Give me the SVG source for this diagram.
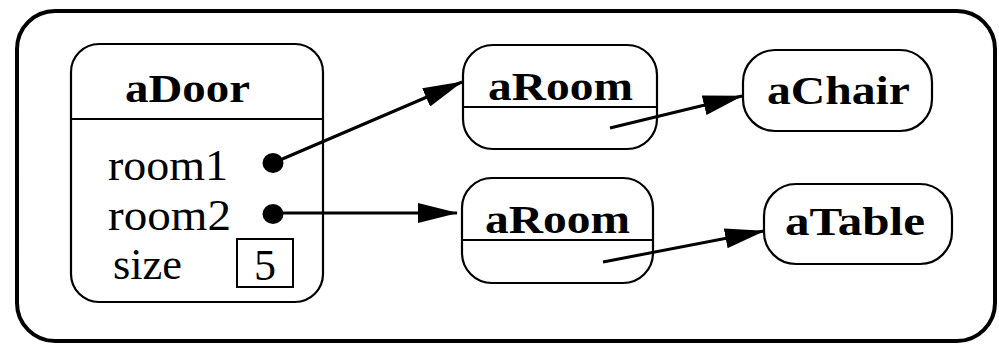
<svg xmlns="http://www.w3.org/2000/svg" width="999" height="345" viewBox="0 0 999 345">
<defs>
<style>
.box{fill:#fff;stroke:#000;stroke-width:2.2}
.div{stroke:#000;stroke-width:2.2}
.name{font-family:"Liberation Serif","Times New Roman",serif;font-weight:bold;font-size:40px;fill:#000}
.attr{font-family:"Liberation Serif","Times New Roman",serif;font-size:44px;fill:#000}
.conn{stroke:#000;stroke-width:3;fill:none;marker-end:url(#arrow)}
</style>
<marker id="arrow" markerUnits="userSpaceOnUse" markerWidth="40" markerHeight="20" refX="39" refY="10" orient="auto">
<path d="M0,0 L40,10 L0,20 z" fill="#000"/>
</marker>
</defs>
<rect id="frame" x="17" y="11" width="978" height="330" rx="38" fill="none" stroke="#000" stroke-width="4"/>
<g id="aDoor">
<rect class="box" x="71" y="44" width="252" height="258" rx="28"/>
<line class="div" x1="71" y1="119" x2="323" y2="119"/>
<text class="name" x="125" y="102" textLength="125" lengthAdjust="spacingAndGlyphs">aDoor</text>
<text class="attr" x="108" y="180" textLength="120" lengthAdjust="spacingAndGlyphs">room1</text>
<text class="attr" x="108" y="230" textLength="123" lengthAdjust="spacingAndGlyphs">room2</text>
<text class="attr" x="113" y="279" textLength="69" lengthAdjust="spacingAndGlyphs">size</text>
<rect x="237" y="239" width="56" height="48" fill="none" stroke="#000" stroke-width="2"/>
<text class="attr" x="254" y="280" textLength="22" lengthAdjust="spacingAndGlyphs">5</text>
<ellipse cx="273" cy="163" rx="10.5" ry="10" fill="#000"/>
<ellipse cx="273" cy="214" rx="10.5" ry="10" fill="#000"/>
</g>
<g id="aRoom1">
<rect class="box" x="463" y="45" width="194" height="104" rx="30"/>
<line class="div" x1="463" y1="107" x2="657" y2="107"/>
<text class="name" x="488" y="100" textLength="145" lengthAdjust="spacingAndGlyphs">aRoom</text>
</g>
<g id="aRoom2">
<rect class="box" x="462" y="178" width="191" height="105" rx="30"/>
<line class="div" x1="462" y1="240" x2="653" y2="240"/>
<text class="name" x="485" y="233" textLength="145" lengthAdjust="spacingAndGlyphs">aRoom</text>
</g>
<g id="aChair">
<rect class="box" x="743" y="50" width="189" height="81" rx="32"/>
<text class="name" x="767" y="104" textLength="143" lengthAdjust="spacingAndGlyphs">aChair</text>
</g>
<g id="aTable">
<rect class="box" x="764" y="184" width="188" height="80" rx="32"/>
<text class="name" x="785" y="235" textLength="140" lengthAdjust="spacingAndGlyphs">aTable</text>
</g>
<g id="connectors">
<line class="conn" x1="273" y1="163" x2="462" y2="82"/>
<line class="conn" x1="273" y1="213" x2="457" y2="213"/>
<line class="conn" x1="610" y1="128" x2="742" y2="96"/>
<line class="conn" x1="603" y1="262" x2="764" y2="231"/>
</g>
</svg>
